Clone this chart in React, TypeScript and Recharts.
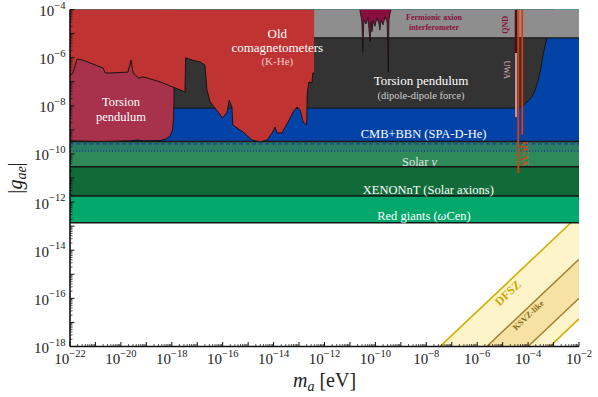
import { ComposedChart, Area, Line, XAxis, YAxis, ReferenceDot } from "recharts"

const FONT = "'Liberation Serif', 'DejaVu Serif', serif"

// axis ranges (eV, dimensionless coupling)
const massDomain = [1e-22, 1e-2]
const gDomain = [1e-18, 1e-4]
const xTickExponents = [-22, -20, -18, -16, -14, -12, -10, -8, -6, -4, -2]
const yTickExponents = [-18, -16, -14, -12, -10, -8, -6, -4]

// flat limits, g_ae above these is excluded
const redGiantsLimit = 1.4e-13
const xenonLimit = 1.8e-12
const solarNuLimit = 2.9e-11
const cmbLimit = 3.3e-10
const cmbDashed = 2.6e-10
const cmbDotted = 1.3e-10
const fermionicStart = 3.9e-13
const fermionicLimit = 6.6e-6

// old comagnetometers (K-He)
const comagMass = [
  1e-22, 1.3e-22, 1.9e-22, 3.2e-22, 2.0e-21, 2.4e-21, 3.7e-21, 1.9e-20, 2.5e-20, 3.0e-20, 5.1e-20, 7.4e-20,
  3.5e-19, 1.1e-18, 2.1e-18, 3.3e-18, 3.5e-18, 6.2e-18, 1.3e-17, 2.0e-17, 2.4e-17, 3.2e-17, 6.6e-17, 1.0e-16,
  1.5e-16, 1.8e-16, 2.3e-16, 2.5e-16, 6.3e-16, 1.4e-15, 3.0e-15, 5.5e-15, 8.7e-15, 1.15e-14, 1.35e-14, 2.1e-14,
  3.7e-14, 5.8e-14, 8.3e-14, 1.1e-13, 1.45e-13, 2.0e-13, 2.1e-13, 2.45e-13, 3.2e-13, 3.5e-13, 3.9e-13,
]
const comagG = [
  1.9e-7, 2.3e-7, 8.7e-7, 7.9e-7, 3.7e-7, 2.3e-7, 2.3e-7, 2.5e-7, 7.9e-7, 2.3e-7, 1.4e-7, 1.6e-7,
  9.8e-8, 6.0e-8, 4.6e-8, 3.7e-8, 9.8e-7, 7.9e-7, 6.6e-7, 4.9e-7, 4.6e-8, 1.45e-8, 5.5e-9, 3.1e-9,
  5.5e-9, 1.7e-8, 8.9e-9, 1.6e-9, 8.1e-10, 3.8e-10, 3.2e-10, 3.8e-10, 7.4e-10, 1.3e-9, 7.4e-10, 7.4e-10,
  2.1e-9, 5.5e-9, 8.9e-9, 6.8e-9, 2.1e-9, 1.6e-9, 3.4e-8, 9.8e-8, 8.9e-8, 2.3e-7, 2.3e-7,
]

// torsion pendulum (monopole-dipole), low mass
const pendulumMass = [1e-22, 1.5e-21, 2.3e-20, 4.7e-20, 7.4e-20, 3.5e-19, 5.9e-19, 8.5e-19, 1.07e-18, 1.17e-18, 1.23e-18, 1.23e-18]
const pendulumG = [3.5e-10, 3.3e-10, 3.5e-10, 3.8e-10, 3.5e-10, 3.6e-10, 4.2e-10, 5.5e-10, 9.8e-10, 2.6e-9, 1.7e-8, 6.0e-8]

// torsion pendulum (dipole-dipole force)
const dipoleMass = [1e-22, 4.0e-5, 5.8e-5, 9.1e-5, 1.55e-4, 2.2e-4, 2.95e-4, 3.9e-4, 5.5e-4, 7.9e-4, 9.5e-4]
const dipoleG = [8e-9, 8e-9, 9.8e-9, 1.45e-8, 2.8e-8, 7.2e-8, 2.5e-7, 1.3e-6, 6.6e-6, 3.6e-5, 1e-4]

// spiky limit inside the interferometer band
const spikeMass = [
  2.45e-11, 2.7e-11, 2.95e-11, 3.2e-11, 3.5e-11, 4.3e-11, 5.1e-11, 6.2e-11, 6.8e-11, 7.4e-11, 8.1e-11, 9.5e-11,
  1.15e-10, 1.4e-10, 1.5e-10, 1.65e-10, 2.0e-10, 2.4e-10, 2.9e-10, 3.2e-10, 3.4e-10, 3.7e-10, 4.1e-10,
]
const spikeG = [
  9.5e-5, 5.4e-5, 3.0e-5, 1.7e-6, 3.6e-5, 2.5e-5, 4.5e-5, 4.5e-6, 3.0e-5, 1.2e-5, 3.6e-5, 2.0e-5,
  4.5e-5, 2.5e-5, 1.4e-5, 3.6e-5, 2.3e-5, 4.9e-5, 3.0e-5, 2.5e-7, 3.6e-5, 6.5e-5, 9.5e-5,
]

// narrow haloscope-type limits
const uwaMass = 3.35e-5
const uwaLimit = 3.4e-9
const qndLimit = 1.55e-6
const quaxMass = [4.1e-5, 5.9e-5]
const quaxLimit = [1.6e-11, 6.2e-10]

// QCD axion bands
const bandMass = [1e-9, 1e-2]
const dfszUpper = [2.9e-20, 2.9e-13]
const dfszLower = [1.4e-24, 1.4e-17]
const ksvzUpper = [4.2e-22, 4.2e-15]
const ksvzLower = [1e-23, 1e-16]

const zip = (ms: number[], gs: number[]) => ms.map((m, i) => ({ m, g: gs[i] }))
const flat = (limit: number, from = massDomain[0]) => [
  { m: from, g: limit },
  { m: massDomain[1], g: limit },
]
const rangeRows = (lo: number[], hi: number[]) => bandMass.map((m, i) => ({ m, lo: lo[i], hi: hi[i] }))

const notes = [
  { text: "Torsion", m: 1.0e-20, g: 1.45e-8, kind: "pend" },
  { text: "pendulum", m: 1.0e-20, g: 3.5e-9, kind: "pend" },
  { text: "Old", m: 1.4e-14, g: 1.05e-5, kind: "big" },
  { text: "comagnetometers", m: 1.4e-14, g: 2.75e-6, kind: "big" },
  { text: "(K-He)", m: 1.4e-14, g: 7.2e-7, kind: "pink" },
  { text: "Torsion pendulum", m: 6.2e-9, g: 1.2e-7, kind: "big" },
  { text: "(dipole-dipole force)", m: 6.2e-9, g: 2.8e-8, kind: "sub" },
  { text: "Fermionic axion", m: 2.0e-8, g: 4.9e-5, kind: "tiny" },
  { text: "interferometer", m: 2.0e-8, g: 1.9e-5, kind: "tiny" },
  { text: "QND", m: 1.2e-5, g: 2.3e-5, kind: "qnd" },
  { text: "UWA", m: 1.5e-5, g: 3.1e-7, kind: "uwa" },
  { text: "QUAX", m: 7.6e-5, g: 1.0e-10, kind: "quax" },
  { text: "CMB+BBN (SPA-D-He)", m: 7.8e-9, g: 6.8e-10, kind: "band" },
  { text: "Solar ν", m: 5.4e-9, g: 4.6e-11, kind: "solar" },
  { text: "XENONnT (Solar axions)", m: 1.2e-8, g: 3.2e-12, kind: "band" },
  { text: "Red giants (ωCen)", m: 8.1e-9, g: 2.6e-13, kind: "band" },
  { text: "DFSZ", m: 1.6e-5, g: 1.66e-16, kind: "dfsz" },
  { text: "KSVZ-like", m: 1.0e-4, g: 2.0e-17, kind: "ksvz" },
]

const noteStyle: Record<string, { size: number; color: string; weight?: string; rotate?: number }> = {
  big: { size: 13, color: "#ffffff" },
  pend: { size: 12.5, color: "#ffffff" },
  band: { size: 12.5, color: "#ffffff" },
  solar: { size: 12.5, color: "#e2e2e2" },
  sub: { size: 10.5, color: "#d0d0d0" },
  pink: { size: 11, color: "#efc9c9" },
  tiny: { size: 8, color: "#8a0f3e", weight: "bold" },
  qnd: { size: 8, color: "#8a0f3e", weight: "bold", rotate: -90 },
  uwa: { size: 8, color: "#e6bccb", rotate: 90 },
  quax: { size: 8.5, color: "#e0410f", weight: "bold", rotate: 90 },
  dfsz: { size: 12, color: "#cfa600", weight: "bold", rotate: -43.4 },
  ksvz: { size: 8.5, color: "#8b6914", weight: "bold", rotate: -43.4 },
}

const tickValues = (lo: number, hi: number) => {
  const out: number[] = []
  for (let e = lo; e < hi; e++) for (let k = 1; k < 10; k++) out.push(k * Math.pow(10, e))
  out.push(Math.pow(10, hi))
  return out
}

const decade = (v: number) => {
  const e = Math.floor(Math.log10(v) + 1e-9)
  return { e, k: Math.round(v / Math.pow(10, e)) }
}

const Power = ({ e }: { e: number }) => (
  <>
    <tspan fontSize={15}>10</tspan>
    <tspan fontSize={10.5} dy={-7.5}>{"\u2212" + Math.abs(e)}</tspan>
  </>
)

const XTick = (props: any) => {
  const { y, payload } = props
  const x = payload.coordinate ?? props.x
  const { e, k } = decade(payload.value)
  const show = k === 1 && xTickExponents.includes(e)
  return (
    <g>
      <line x1={x} x2={x} y1={y} y2={y - (k === 1 ? 4.5 : 2.5)} stroke="#111" strokeWidth={k === 1 ? 1 : 0.7} />
      {show && (
        <text x={x} y={y + 17.5} textAnchor="middle" fontFamily={FONT} fill="#222">
          <Power e={e} />
        </text>
      )}
    </g>
  )
}

const YTick = (props: any) => {
  const { x, payload } = props
  const y = payload.coordinate ?? props.y
  const { e, k } = decade(payload.value)
  const show = k === 1 && yTickExponents.includes(e)
  return (
    <g>
      <line x1={x} x2={x + (k === 1 ? 4.5 : 2.5)} y1={y} y2={y} stroke="#111" strokeWidth={k === 1 ? 1 : 0.7} />
      {show && (
        <text x={x - 4.5} y={y + 6.5} textAnchor="end" fontFamily={FONT} fill="#222">
          <Power e={e} />
        </text>
      )}
    </g>
  )
}

const XTitle = (props: any) => {
  const vb = props.viewBox ?? { x: 70, y: 346.5, width: 509, height: 30.5 }
  return (
    <text x={vb.x + vb.width / 2} y={vb.y + 40} textAnchor="middle" fontFamily={FONT} fontSize={20} fill="#222">
      <tspan fontStyle="italic">m</tspan>
      <tspan fontStyle="italic" fontSize={14} dy={4}>a</tspan>
      <tspan dy={-4} dx={5}>[eV]</tspan>
    </text>
  )
}

const YTitle = (props: any) => {
  const vb = props.viewBox ?? { x: 0, y: 9.5, width: 70, height: 337 }
  const x = vb.x + 22
  const y = vb.y + vb.height / 2
  return (
    <text x={x} y={y} transform={`rotate(-90 ${x} ${y})`} textAnchor="middle" fontFamily={FONT} fontSize={20} fill="#222">
      <tspan>|</tspan>
      <tspan fontStyle="italic">g</tspan>
      <tspan fontStyle="italic" fontSize={14} dy={4}>ae</tspan>
      <tspan dy={-4}>|</tspan>
    </text>
  )
}

const greek = /([νω])/
const NoteText = (text: string) =>
  text.split(greek).map((part, i) =>
    greek.test(part) ? (
      <tspan key={i} fontStyle="italic">
        {part}
      </tspan>
    ) : (
      <tspan key={i}>{part}</tspan>
    )
  )

const noteShape = (text: string, kind: string) => (p: any) => {
  const s = noteStyle[kind]
  return (
    <text
      x={p.cx}
      y={p.cy}
      textAnchor="middle"
      dominantBaseline="central"
      transform={s.rotate ? `rotate(${s.rotate} ${p.cx} ${p.cy})` : undefined}
      fontFamily={FONT}
      fontSize={s.size}
      fontWeight={s.weight ?? "normal"}
      fill={s.color}
    >
      {NoteText(text)}
    </text>
  )
}

const EDGE = "#151515"

export default function App() {
  const xTicks = tickValues(-22, -2)
  const yTicks = tickValues(-18, -4)
  const common = { dataKey: "g", baseValue: "dataMax" as const, isAnimationActive: false, dot: false, activeDot: false }

  return (
    <div style={{ position: "absolute", left: 0, top: 0, width: 598, height: 397, background: "#fff" }}>
      <ComposedChart width={598} height={397} margin={{ top: 9.5, right: 19, bottom: 20, left: 0 }}>
        <Area
          data={rangeRows(dfszLower, dfszUpper)}
          dataKey={(d: any) => [d.lo, d.hi]}
          type="linear"
          fill="#fdf4c9"
          fillOpacity={1}
          stroke="#d2ae00"
          strokeWidth={1.6}
          isAnimationActive={false}
          dot={false}
          activeDot={false}
        />
        <Area
          data={rangeRows(ksvzLower, ksvzUpper)}
          dataKey={(d: any) => [d.lo, d.hi]}
          type="linear"
          fill="#f6e3a4"
          fillOpacity={1}
          stroke="#a27c2a"
          strokeWidth={1.4}
          isAnimationActive={false}
          dot={false}
          activeDot={false}
        />
        <Area {...common} data={flat(redGiantsLimit)} type="linear" fill="#02a86c" fillOpacity={1} stroke={EDGE} strokeWidth={1.5} />
        <Area {...common} data={flat(xenonLimit)} type="linear" fill="#116b39" fillOpacity={1} stroke={EDGE} strokeWidth={1.5} />
        <Area {...common} data={flat(solarNuLimit)} type="linear" fill="#2e8b59" fillOpacity={1} stroke={EDGE} strokeWidth={1.5} />
        <Area {...common} data={flat(cmbDotted)} type="linear" fill="#17408f" fillOpacity={0.18} stroke="none" />
        <Area {...common} data={flat(cmbLimit)} type="linear" fill="#0343a8" fillOpacity={1} stroke={EDGE} strokeWidth={1.5} />
        <Area {...common} data={zip(dipoleMass, dipoleG)} type="monotone" fill="#333333" fillOpacity={1} stroke={EDGE} strokeWidth={1} />
        <Area {...common} data={zip(pendulumMass, pendulumG)} type="linear" fill="#a8314b" fillOpacity={1} stroke={EDGE} strokeWidth={1} />
        <Area {...common} data={zip(comagMass, comagG)} type="linear" fill="#c03333" fillOpacity={1} stroke={EDGE} strokeWidth={1} />
        <Area {...common} data={flat(fermionicLimit, fermionicStart)} type="linear" fill="#8e8e8e" fillOpacity={1} stroke={EDGE} strokeWidth={1.2} />
        <Area {...common} data={zip(spikeMass, spikeG)} type="linear" fill="#8a0f3e" fillOpacity={1} stroke="#111" strokeWidth={0.8} />

        <Line data={flat(cmbDashed)} dataKey="g" type="linear" stroke="#1d3f9e" strokeWidth={1.2} strokeDasharray="4 2.5" dot={false} activeDot={false} isAnimationActive={false} />
        <Line data={flat(cmbDotted)} dataKey="g" type="linear" stroke="#1d3f9e" strokeWidth={1.2} strokeDasharray="1.2 1.8" dot={false} activeDot={false} isAnimationActive={false} />
        <Line data={[{ m: uwaMass, g: uwaLimit }, { m: uwaMass, g: gDomain[1] }]} dataKey="g" type="linear" stroke="#bf97a2" strokeWidth={2} dot={false} activeDot={false} isAnimationActive={false} />
        <Line data={[{ m: uwaMass, g: qndLimit }, { m: uwaMass, g: gDomain[1] }]} dataKey="g" type="linear" stroke="#4d0c18" strokeWidth={2.5} dot={false} activeDot={false} isAnimationActive={false} />
        {quaxMass.map((m, i) => (
          <Line
            key={"quax" + i}
            data={[{ m, g: quaxLimit[i] }, { m, g: gDomain[1] }]}
            dataKey="g"
            type="linear"
            stroke="#d93d0c"
            strokeWidth={1.8}
            dot={false}
            activeDot={false}
            isAnimationActive={false}
          />
        ))}

        {notes.map((n, i) => (
          <ReferenceDot key={"n" + i} x={n.m} y={n.g} r={0} shape={noteShape(n.text, n.kind)} />
        ))}

        <XAxis
          dataKey="m"
          type="number"
          scale="log"
          domain={massDomain}
          allowDataOverflow
          ticks={xTicks}
          interval={0}
          tick={<XTick />}
          tickLine={false}
          tickSize={0}
          tickMargin={0}
          height={30.5}
          axisLine={{ stroke: "#111", strokeWidth: 1.6 }}
          label={<XTitle />}
        />
        <XAxis
          xAxisId="top"
          orientation="top"
          type="number"
          scale="log"
          domain={massDomain}
          allowDataOverflow
          height={0}
          tick={false}
          tickLine={false}
          axisLine={{ stroke: "#111", strokeWidth: 1.6 }}
        />
        <YAxis
          type="number"
          scale="log"
          domain={gDomain}
          allowDataOverflow
          ticks={yTicks}
          interval={0}
          tick={<YTick />}
          tickLine={false}
          tickSize={0}
          tickMargin={0}
          width={70}
          axisLine={{ stroke: "#111", strokeWidth: 1.6 }}
          label={<YTitle />}
        />
        <YAxis
          yAxisId="right"
          orientation="right"
          type="number"
          scale="log"
          domain={gDomain}
          allowDataOverflow
          width={0}
          tick={false}
          tickLine={false}
          axisLine={{ stroke: "#111", strokeWidth: 1.6 }}
        />
      </ComposedChart>
    </div>
  )
}
